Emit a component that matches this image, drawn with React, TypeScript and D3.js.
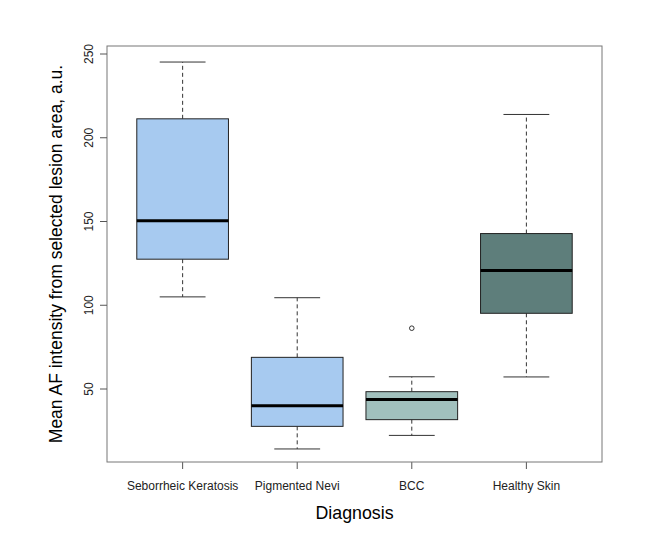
import React from "react";
import * as d3 from "d3";

const categories = ["Seborrheic Keratosis", "Pigmented Nevi", "BCC", "Healthy Skin"];
const lowerWhisker = [105, 14.2, 22.3, 57.2];
const q1 = [127.5, 27.7, 31.7, 95.2];
const median = [150.4, 40.0, 43.8, 120.7];
const q3 = [211.3, 68.9, 48.4, 142.8];
const upperWhisker = [245.2, 104.5, 57.3, 213.9];
const outliers: number[][] = [[], [], [86.3], []];
const fills = ["#a7caf0", "#a7caf0", "#a1c0bd", "#5e7e7b"];
const yTicks = [50, 100, 150, 200, 250];

const W = 672, H = 544;
const frame = { left: 107, right: 602, top: 46, bottom: 462 };

export default function App() {
  const x = d3.scaleLinear().domain([0.34, 4.66]).range([frame.left, frame.right]);
  const y = d3.scaleLinear().domain([50, 250]).range([389, 54]);
  const bw = (x(1.4) - x(0.6));
  const cw = bw / 2;
  const font = "'Liberation Sans', Arial, sans-serif";
  return (
    <div style={{ position: "absolute", left: 0, top: 0 }}>
      <svg width={W} height={H} style={{ display: "block", background: "#fff" }} fontFamily={font}>
        {categories.map((c, i) => {
          const cx = x(i + 1);
          return (
            <g key={c}>
              <line x1={cx} x2={cx} y1={y(q3[i])} y2={y(upperWhisker[i])} stroke="#333" strokeDasharray="4,3" />
              <line x1={cx} x2={cx} y1={y(q1[i])} y2={y(lowerWhisker[i])} stroke="#333" strokeDasharray="4,3" />
              <line x1={cx - cw / 2} x2={cx + cw / 2} y1={y(upperWhisker[i])} y2={y(upperWhisker[i])} stroke="#333" />
              <line x1={cx - cw / 2} x2={cx + cw / 2} y1={y(lowerWhisker[i])} y2={y(lowerWhisker[i])} stroke="#333" />
              <rect x={cx - bw / 2} y={y(q3[i])} width={bw} height={y(q1[i]) - y(q3[i])} fill={fills[i]} stroke="#222" strokeWidth={1} />
              <line x1={cx - bw / 2} x2={cx + bw / 2} y1={y(median[i])} y2={y(median[i])} stroke="#000" strokeWidth={3} />
              {outliers[i].map((o, j) => (
                <circle key={j} cx={cx} cy={y(o)} r={2.3} fill="none" stroke="#333" />
              ))}
              <line x1={cx} x2={cx} y1={frame.bottom} y2={frame.bottom + 7} stroke="#555" />
              <text x={cx} y={490} textAnchor="middle" fontSize={12} fill="#222">{c}</text>
            </g>
          );
        })}
        <rect x={frame.left} y={frame.top} width={frame.right - frame.left} height={frame.bottom - frame.top} fill="none" stroke="#777" />
        {yTicks.map((t) => (
          <g key={t}>
            <line x1={frame.left - 7} x2={frame.left} y1={y(t)} y2={y(t)} stroke="#555" />
            <text transform={`translate(93,${y(t)}) rotate(-90)`} textAnchor="middle" fontSize={12} fill="#222">{t}</text>
          </g>
        ))}
        <text x={(frame.left + frame.right) / 2} y={518.5} textAnchor="middle" fontSize={17.8} fill="#000">Diagnosis</text>
        <text transform={`translate(62,${(frame.top + frame.bottom) / 2}) rotate(-90)`} textAnchor="middle" fontSize={17.5} fill="#000">
          Mean AF intensity from selected lesion area, a.u.
        </text>
      </svg>
    </div>
  );
}
